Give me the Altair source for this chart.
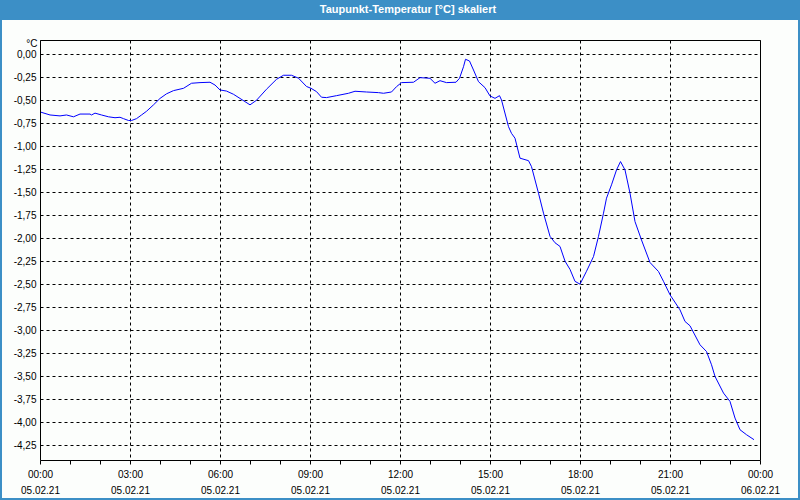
import altair as alt
import pandas as pd

# time in minutes after 05.02.21 00:00
minutes = [2, 20, 40, 53, 67, 80, 100, 103, 110, 123, 137, 150, 160, 167, 177, 183,
           193, 203, 213, 227, 240, 253, 267, 287, 303, 320, 340, 350, 360, 373, 387,
           400, 420, 433, 453, 473, 487, 503, 517, 533, 542, 553, 563, 573, 593,
           617, 630, 653, 677, 687, 703, 713, 723, 747, 760, 780, 790, 800, 813, 832,
           839, 847, 851, 859, 867, 877, 890, 900, 910, 919, 923, 937, 943, 950, 960,
           977, 983, 997, 1007, 1020, 1030, 1040, 1050, 1060, 1070, 1080, 1093, 1107,
           1117, 1127, 1133, 1143, 1153, 1161, 1170, 1180, 1190, 1203, 1220, 1237,
           1247, 1260, 1280, 1290, 1300, 1320, 1333, 1343, 1350, 1367, 1380, 1390,
           1400, 1413, 1428]
dewpoint = [-0.63, -0.66, -0.67, -0.66, -0.68, -0.65, -0.65, -0.66, -0.64, -0.66, -0.68,
            -0.69, -0.685, -0.70, -0.72, -0.72, -0.70, -0.66, -0.62, -0.55, -0.48, -0.43,
            -0.395, -0.37, -0.315, -0.308, -0.304, -0.334, -0.388, -0.40, -0.435, -0.48,
            -0.55, -0.50, -0.38, -0.272, -0.228, -0.228, -0.26, -0.35, -0.37, -0.406,
            -0.467, -0.471, -0.45, -0.424, -0.402, -0.41, -0.417, -0.424, -0.41, -0.352,
            -0.308, -0.304, -0.254, -0.261, -0.315, -0.287, -0.308, -0.304, -0.261,
            -0.135, -0.054, -0.073, -0.171, -0.298, -0.363, -0.453, -0.479, -0.45,
            -0.497, -0.787, -0.86, -0.913, -1.13, -1.157, -1.222, -1.511, -1.728, -1.98,
            -2.05, -2.09, -2.25, -2.34, -2.47, -2.50, -2.36, -2.20, -1.98, -1.728,
            -1.565, -1.42, -1.258, -1.167, -1.258, -1.511, -1.82, -2.02, -2.265, -2.363,
            -2.47, -2.616, -2.78, -2.906, -2.953, -3.16, -3.233, -3.377, -3.504, -3.685,
            -3.776, -3.957, -4.084, -4.138, -4.192]

y_ticks = [0, -0.25, -0.5, -0.75, -1.0, -1.25, -1.5, -1.75, -2.0, -2.25, -2.5, -2.75,
           -3.0, -3.25, -3.5, -3.75, -4.0, -4.25]
x_hours = list(range(25))
title_text = "Taupunkt-Temperatur [°C] skaliert"

df = pd.DataFrame({"h": [m / 60 for m in minutes], "v": dewpoint})

BLUE = "#3c8fc6"
BG = "#fcfefc"
FONT = "Liberation Sans"

x_axis = alt.Axis(
    values=x_hours,
    labelExpr="datum.value % 3 == 0 ? [(datum.value % 24 < 10 ? '0' : '') + (datum.value % 24) + ':00', datum.value == 24 ? '06.02.21' : '05.02.21'] : ''",
    grid=True, gridDash=[3, 3], gridColor="black",
    gridOpacity={"condition": {"test": "datum.value % 3 == 0", "value": 1}, "value": 0},
    ticks=True, tickSize=4, tickColor="black", domain=False,
    labelFont=FONT, labelFontSize=10, labelColor="black", labelPadding=5,
    labelLineHeight=16, labelOverlap=False, labelFlush=False, labelBound=False,
    title=None,
)
y_axis = alt.Axis(
    values=y_ticks,
    labelExpr="(datum.value < 0 ? '-' : '') + replace(format(abs(datum.value), '.2f'), '.', ',')",
    grid=True, gridDash=[3, 3], gridColor="black",
    ticks=False, tickSize=0, domain=False,
    labelFont=FONT, labelFontSize=10, labelColor="black", labelPadding=4,
    labelOverlap=False, labelFlush=False,
    title="°C", titleAngle=0, titleX=-3, titleY=3, titleAlign="right",
    titleBaseline="middle", titleFont=FONT, titleFontSize=10, titleFontWeight="normal",
    titleColor="black",
)

line = alt.Chart(df).mark_line(color="#0000ff", strokeWidth=1, interpolate="linear").encode(
    x=alt.X("h:Q", scale=alt.Scale(domain=[0, 24], nice=False, zero=False), axis=x_axis),
    y=alt.Y("v:Q", scale=alt.Scale(domain=[-4.413, 0.1555], nice=False, zero=False), axis=y_axis),
)

one = alt.Data(values=[{}])
frame = alt.Chart(one).mark_rect(fillOpacity=0, stroke=BLUE, strokeWidth=4).encode(
    x=alt.value(-40), x2=alt.value(760), y=alt.value(-40), y2=alt.value(460)
)
bar = alt.Chart(one).mark_rect(fill=BLUE).encode(
    x=alt.value(-40), x2=alt.value(760), y=alt.value(-40), y2=alt.value(-20)
)
title = alt.Chart(one).mark_text(
    color="white", font=FONT, fontSize=11, fontWeight="bold", align="center", baseline="middle"
).encode(x=alt.value(368), y=alt.value(-30), text=alt.value(title_text))

chart = alt.layer(frame, bar, title, line).properties(
    width=720, height=420,
    autosize=alt.AutoSizeParams(type="none"),
    padding={"left": 40, "top": 40, "right": 40, "bottom": 40},
    background=BG,
).configure_view(stroke="black", strokeWidth=1, fill=BG)

chart.save("out.html", embed_options={"renderer": "svg", "actions": False})
